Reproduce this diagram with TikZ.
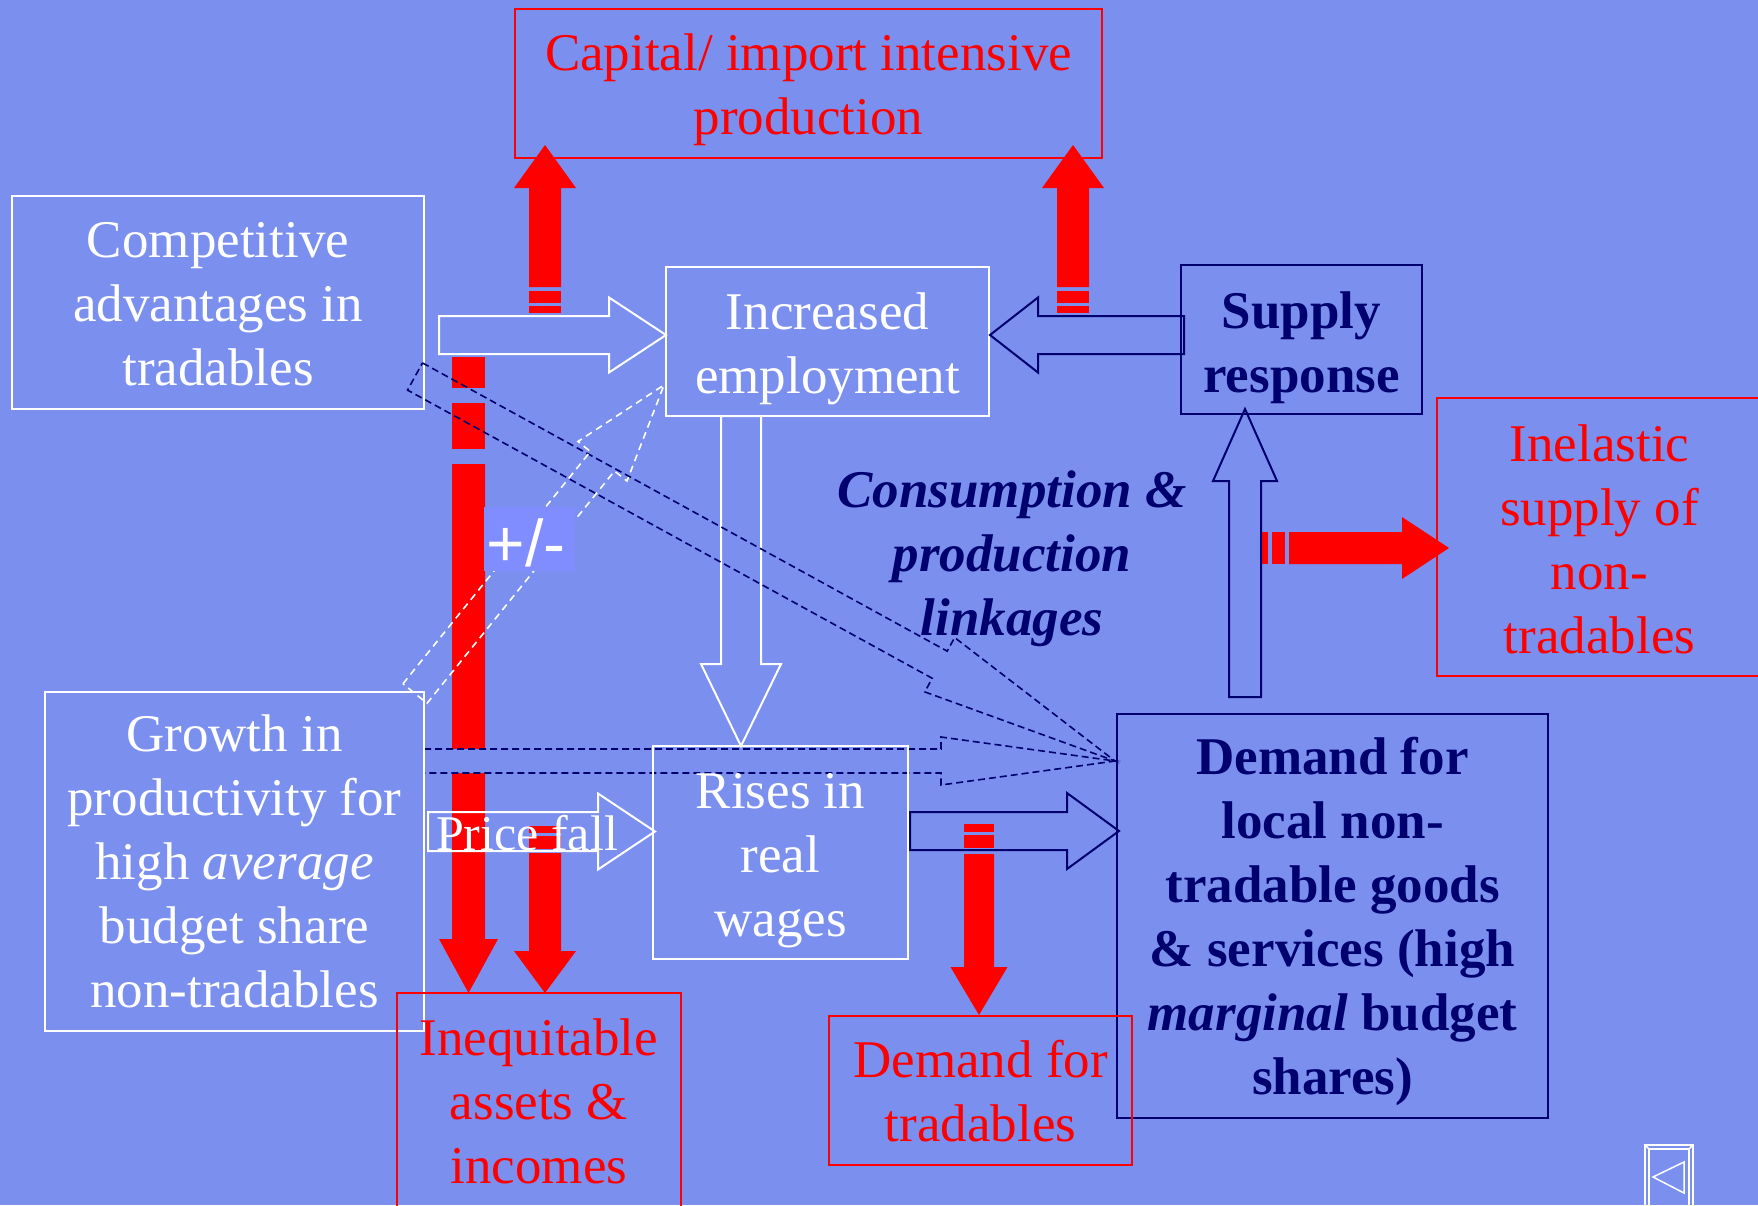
\documentclass[tikz,border=0pt]{standalone}
\usepackage{fontspec}
\setmainfont{Liberation Serif}
\newfontfamily\sansfam{Liberation Sans}
\usetikzlibrary{calc}

\definecolor{slidebg}{RGB}{123,144,238}
\definecolor{signbg}{RGB}{128,141,255}
\definecolor{navy}{RGB}{0,0,110}

% block arrow: #1 style, #2 tail, #3 tip, #4 half shaft, #5 half head, #6 head length
\newcommand\drawblockarrow[6]{%
  \path ($(#3)!#6!(#2)$) coordinate (bh);
  \draw[#1] ($(#2)!#4!90:(#3)$) -- ($(bh)!#4!90:(#3)$) -- ($(bh)!#5!90:(#3)$) -- (#3)
    -- ($(bh)!#5!-90:(#3)$) -- ($(bh)!#4!-90:(#3)$) -- ($(#2)!#4!-90:(#3)$) -- cycle;
}

\begin{document}
\begin{tikzpicture}[x=1pt,y=-1pt,
  wbox/.style={draw=white, line width=2pt, inner sep=0pt},
  rbox/.style={draw=red, line width=2pt, inner sep=0pt},
  nbox/.style={draw=navy, line width=2pt, inner sep=0pt},
  txt/.style={inner sep=0pt, align=center, anchor=north, font=\fontsize{53}{64}\selectfont},
  wtxt/.style={txt, text=white},
  rtxt/.style={txt, text=red},
  ntxt/.style={txt, text=navy, font=\fontsize{53}{64}\selectfont\bfseries},
  whitearrow/.style={draw=white, line width=2pt, line join=miter},
  navyarrow/.style={draw=navy, line width=2pt, line join=miter},
  redarrow/.style={fill=red, draw=none},
  stripe/.style={fill=red, draw=none},
  navydash/.style={draw=navy, line width=1.6pt, dash pattern=on 7pt off 4pt},
  whitedash/.style={draw=white, line width=1.6pt, dash pattern=on 7pt off 5pt},
  navbtn/.style={draw=white, line width=1.5pt}
]
\fill[slidebg] (0,0) rectangle (1758,1205);
\useasboundingbox (0,0) rectangle (1758,1205);
\clip (0,0) rectangle (1758,1205);

% ---------- red striped arrows ----------
\coordinate (r1a) at (545,287);   \coordinate (r1b) at (545,145);
\coordinate (r2a) at (1073,287);  \coordinate (r2b) at (1073,145);
\coordinate (r3a) at (468.5,464); \coordinate (r3b) at (468.5,993);
\coordinate (r4a) at (545,853);   \coordinate (r4b) at (545,993);
\coordinate (r5a) at (979,854);   \coordinate (r5b) at (979,1015);
\coordinate (r6a) at (1289,548);  \coordinate (r6b) at (1449,548);

\drawblockarrow{redarrow}{r1a}{r1b}{16pt}{31pt}{43pt}
\fill[stripe] (529,291) rectangle (561,303);
\fill[stripe] (529,306) rectangle (561,313);

\drawblockarrow{redarrow}{r2a}{r2b}{16pt}{31pt}{43pt}
\fill[stripe] (1057,291) rectangle (1089,303);
\fill[stripe] (1057,306) rectangle (1089,313);

\drawblockarrow{redarrow}{r3a}{r3b}{16.5pt}{29.5pt}{54pt}
\fill[stripe] (452,357) rectangle (485,388);
\fill[stripe] (452,403) rectangle (485,449);

\drawblockarrow{redarrow}{r4a}{r4b}{16pt}{31pt}{42pt}
\fill[stripe] (529,826) rectangle (561,833);
\fill[stripe] (529,836) rectangle (561,849);

\drawblockarrow{redarrow}{r5a}{r5b}{15pt}{28.5pt}{48pt}
\fill[stripe] (964,824) rectangle (994,832);
\fill[stripe] (964,835) rectangle (994,848);

\drawblockarrow{redarrow}{r6a}{r6b}{16pt}{31pt}{47pt}
\fill[stripe] (1260,532) rectangle (1268,564);
\fill[stripe] (1272,532) rectangle (1285,564);

% ---------- dashed arrow from productivity growth (covers the red bar) ----------
\coordinate (d2a) at (424,761); \coordinate (d2b) at (1115,761);
\drawblockarrow{navydash, fill=slidebg}{d2a}{d2b}{12pt}{24pt}{174pt}

% ---------- boxes ----------
\node[rbox, minimum width=587pt, minimum height=149pt] (cap) at (808.5,83.5) {};
\node[wbox, minimum width=412pt, minimum height=213pt] (comp) at (218,302.5) {};
\node[wbox, minimum width=323pt, minimum height=149pt] (emp) at (827.5,341.5) {};
\node[nbox, minimum width=241pt, minimum height=149pt] (sup) at (1301.5,339.5) {};
\node[rbox, minimum width=325pt, minimum height=278pt] (inel) at (1599.5,537) {};
\node[wbox, minimum width=379pt, minimum height=339pt] (grow) at (234.5,861.5) {};
\node[wbox, minimum width=255pt, minimum height=213pt] (wage) at (780.5,852.5) {};
\node[nbox, minimum width=431pt, minimum height=404pt] (dem) at (1332.5,916) {};
\node[rbox, minimum width=284pt, minimum height=227pt] (ineq) at (539,1106.5) {};
\node[rbox, minimum width=303pt, minimum height=149pt] (trad) at (980.5,1090.5) {};

% ---------- box texts ----------
\node[rtxt] (capt) at (808.5,25.2) {\strut Capital/ import intensive\\production};
\node[wtxt] (compt) at (218,212.2) {\strut Competitive\\advantages in\\tradables};
\node[wtxt] (empt) at (827.5,284.2) {\strut Increased\\employment};
\node[ntxt] (supt) at (1301.5,283.2) {\strut Supply\\response};
\node[rtxt] (inelt) at (1599.5,416) {\strut Inelastic\\supply of\\non-\\tradables};
\node[wtxt] (growt) at (234.5,706.2) {\strut Growth in\\productivity for\\high \textit{average}\\budget share\\non-tradables};
\node[wtxt] (waget) at (780.5,763.2) {\strut Rises in\\real\\wages};
\node[ntxt] (demt) at (1332.5,729.2) {\strut Demand for\\local non-\\tradable goods\\\& services (high\\\textit{marginal} budget\\shares)};
\node[rtxt] (ineqt) at (539,1010.2) {\strut Inequitable\\assets \&\\incomes};
\node[rtxt] (tradt) at (980.5,1032.2) {\strut Demand for\\tradables};
\node[ntxt, font=\fontsize{53}{64}\selectfont\bfseries\itshape] (link) at (1012,462.2) {\strut Consumption \&\\production\\linkages};

% ---------- solid block arrows ----------
\coordinate (w1a) at (439,335);    \coordinate (w1b) at (666,335);
\coordinate (w2a) at (741,416);    \coordinate (w2b) at (741,746);
\coordinate (w3a) at (428,831.5);  \coordinate (w3b) at (655,831.5);
\coordinate (n1a) at (1184,335);   \coordinate (n1b) at (990,335);
\coordinate (n2a) at (910,831);    \coordinate (n2b) at (1119,831);
\coordinate (n3a) at (1245,697);   \coordinate (n3b) at (1245,409);

\drawblockarrow{whitearrow}{w1a}{w1b}{19pt}{37.5pt}{57pt}
\drawblockarrow{whitearrow}{w2a}{w2b}{20pt}{40pt}{82pt}
\drawblockarrow{whitearrow}{w3a}{w3b}{19.5pt}{38pt}{57pt}
\drawblockarrow{navyarrow}{n1a}{n1b}{19pt}{37.5pt}{48pt}
\drawblockarrow{navyarrow}{n2a}{n2b}{19pt}{38pt}{52pt}
\drawblockarrow{navyarrow}{n3a}{n3b}{16pt}{32pt}{72pt}

\node[inner sep=0pt, anchor=base, text=white, font=\fontsize{50}{60}\selectfont] (price) at (527,850) {Price fall};

% ---------- dashed block arrows ----------
\coordinate (d1a) at (415,376.5); \coordinate (d1b) at (1115,761);
\coordinate (d3a) at (415,693.5); \coordinate (d3b) at (664,385);
\drawblockarrow{navydash}{d1a}{d1b}{15.5pt}{31pt}{200pt}
\drawblockarrow{whitedash}{d3a}{d3b}{15.5pt}{31.5pt}{98pt}

% ---------- +/- sign ----------
\node[fill=signbg, inner sep=0pt, minimum width=91pt, minimum height=64pt] (pm) at (529.5,539) {};
\node[inner sep=0pt, anchor=base, text=white, font=\sansfam\fontsize{66}{78}\selectfont] (pmt) at (526,566) {+/-};

% ---------- navigation button ----------
\draw[navbtn] (1645,1215) -- (1645,1145) -- (1693,1145) -- (1693,1215);
\draw[navbtn] (1649,1215) -- (1649,1149) -- (1689,1149) -- (1689,1215);
\draw[navbtn] (1645,1145) -- (1649,1149) (1693,1145) -- (1689,1149);
\draw[navbtn] (1653,1177) -- (1684,1162) -- (1684,1193) -- cycle;
\end{tikzpicture}
\end{document}
